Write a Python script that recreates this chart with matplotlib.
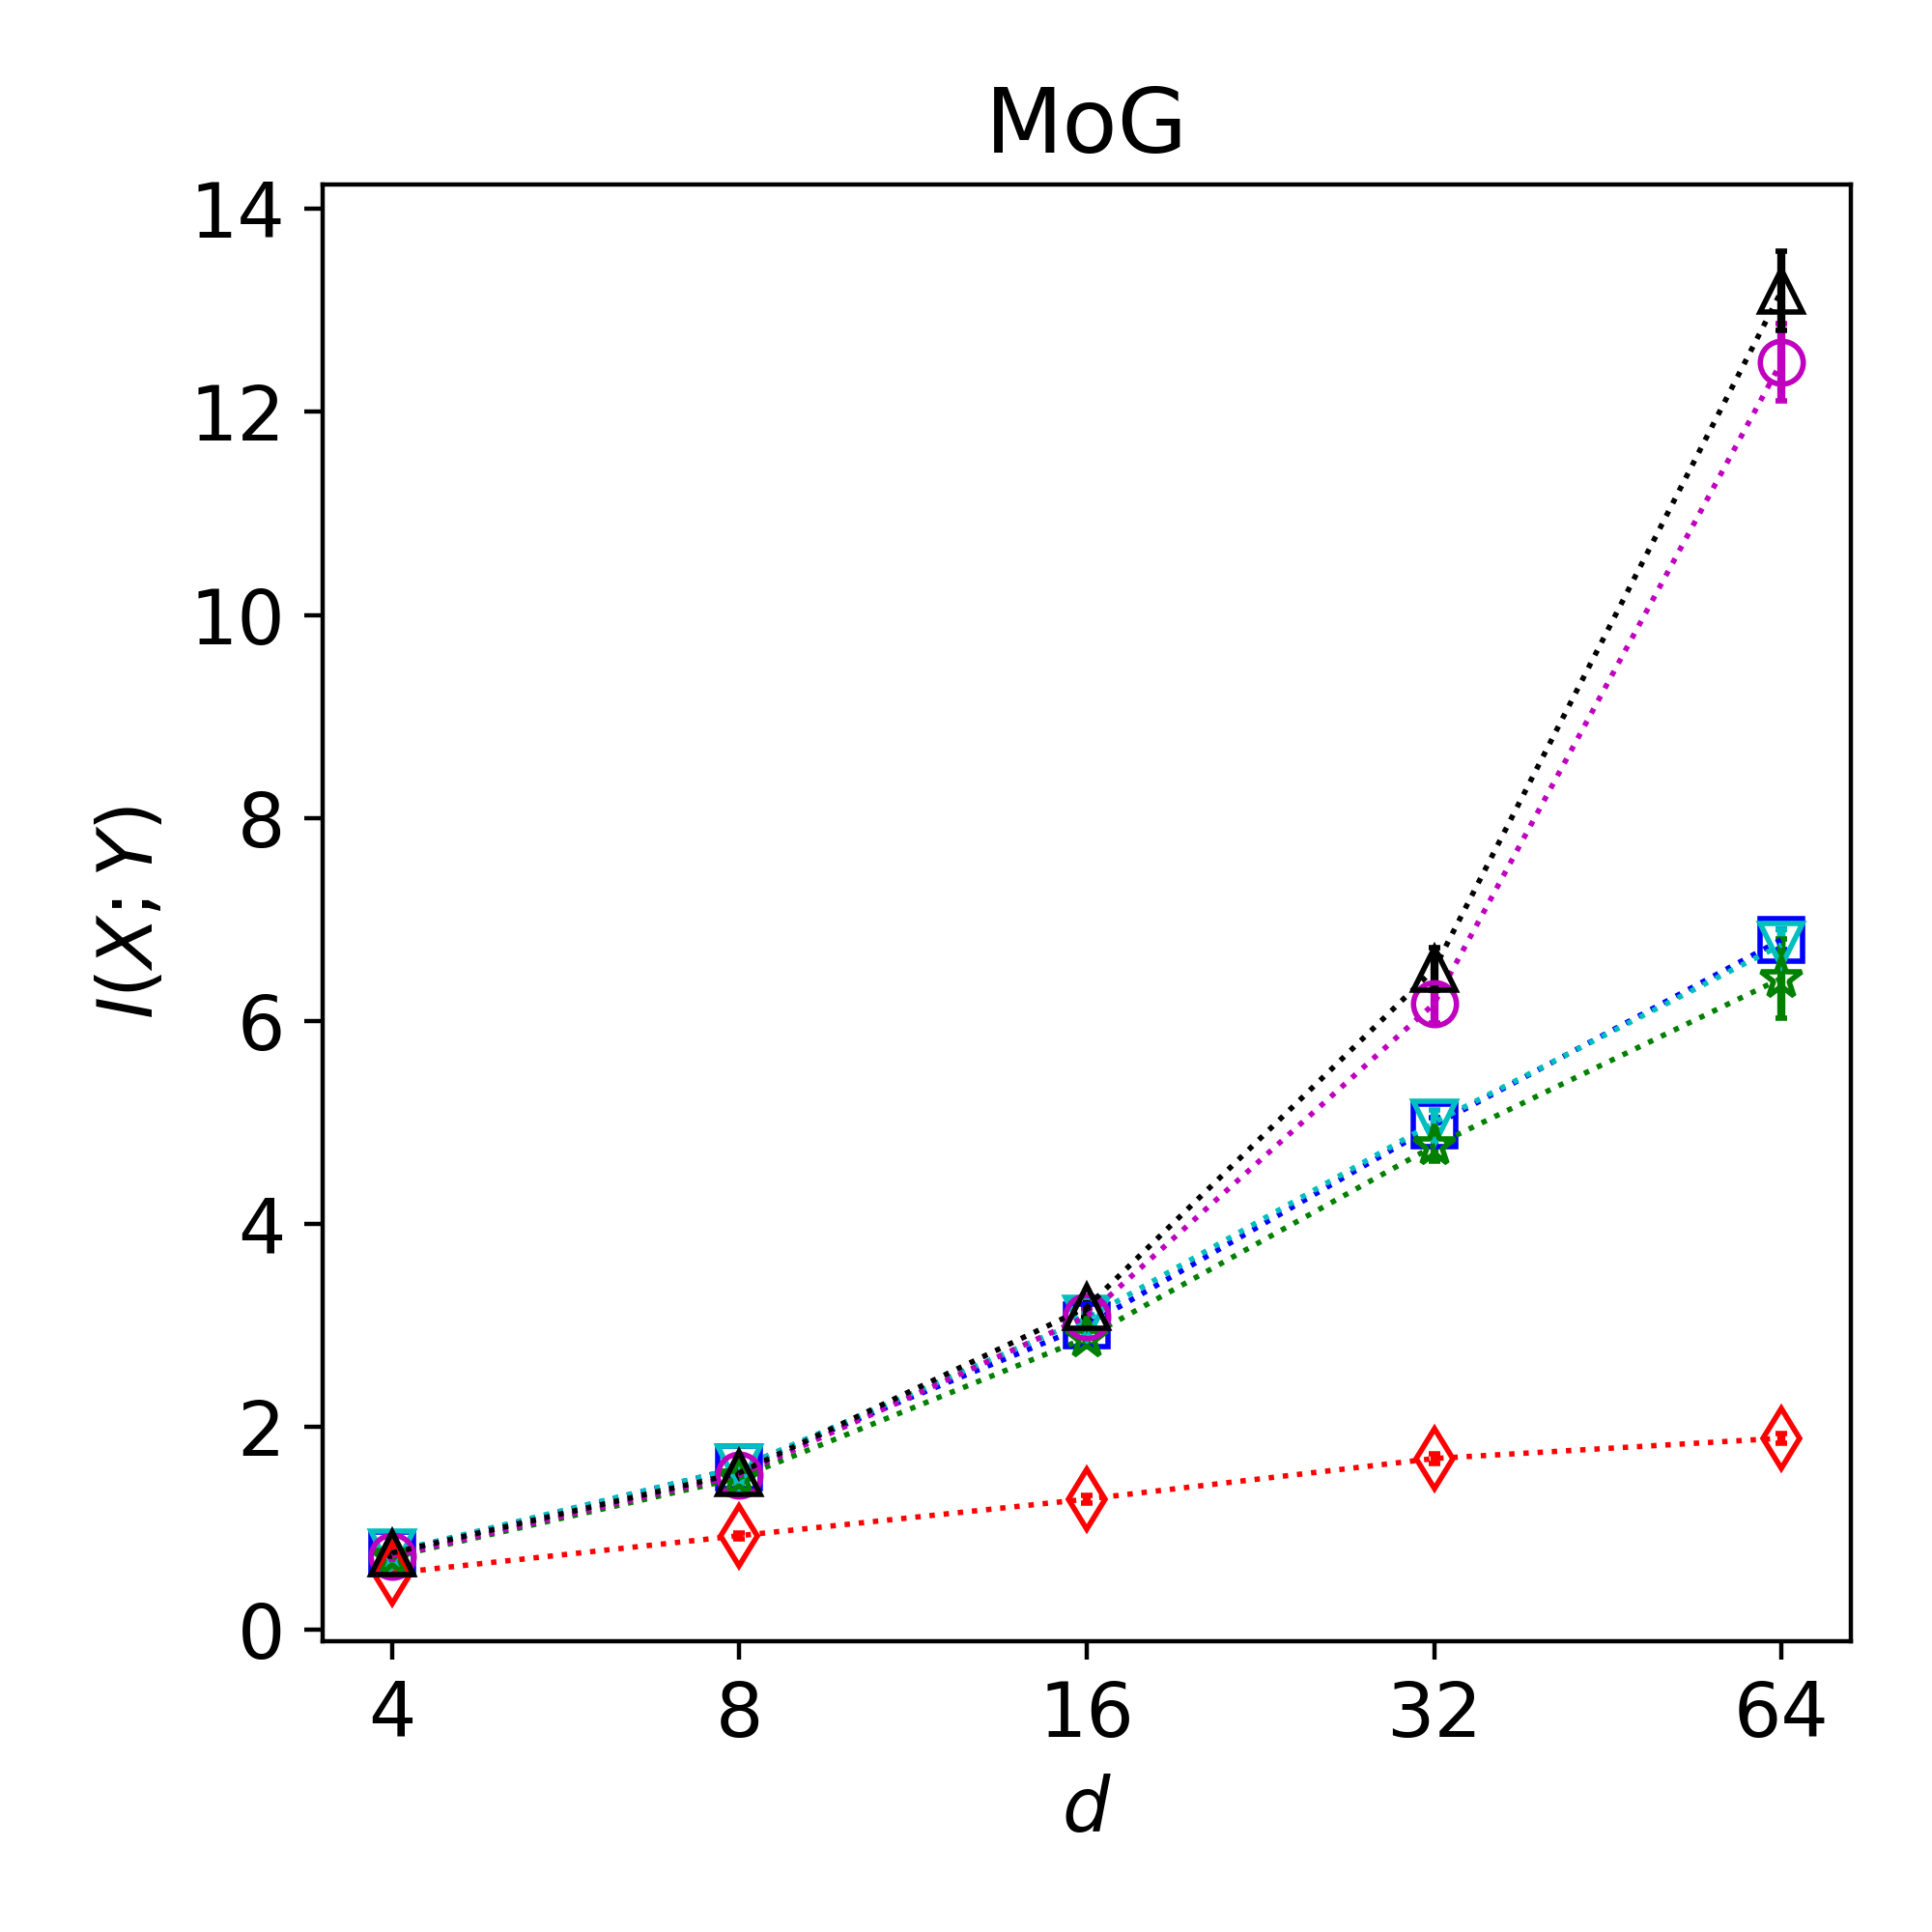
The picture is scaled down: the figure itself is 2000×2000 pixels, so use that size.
import matplotlib
matplotlib.use("Agg")
import matplotlib.pyplot as plt
from matplotlib.ticker import NullLocator, FixedLocator, FixedFormatter

plt.rcParams['font.size'] = 14

d = [4, 8, 16, 32, 64]
tick_labels = ["4", "8", "16", "32", "64"]

# series: (values, errors, color, marker)
blue_vals = [0.76, 1.60, 3.00, 4.97, 6.80]
blue_err = [0.03, 0.04, 0.06, 0.08, 0.10]
cyan_vals = [0.77, 1.60, 3.07, 5.00, 6.75]
cyan_err = [0.03, 0.04, 0.06, 0.12, 0.15]
green_vals = [0.72, 1.50, 2.88, 4.77, 6.42]
green_err = [0.03, 0.05, 0.07, 0.15, 0.39]
magenta_vals = [0.73, 1.53, 3.09, 6.17, 12.49]
magenta_err = [0.03, 0.05, 0.08, 0.19, 0.38]
red_vals = [0.56, 0.93, 1.29, 1.69, 1.89]
red_err = [0.02, 0.03, 0.04, 0.05, 0.05]
black_vals = [0.76, 1.55, 3.18, 6.51, 13.19]
black_err = [0.03, 0.05, 0.10, 0.21, 0.39]

series = [
    (blue_vals, blue_err, 'b', 's'),
    (cyan_vals, cyan_err, 'c', 'v'),
    (green_vals, green_err, 'g', '*'),
    (magenta_vals, magenta_err, 'm', 'o'),
    (red_vals, red_err, 'r', 'd'),
    (black_vals, black_err, 'k', '^'),
]

fig = plt.figure(figsize=(5, 5), dpi=400)
ax = fig.add_axes([0.167, 0.1505, 0.791, 0.754])

for vals, errs, col, mk in series:
    ax.errorbar(d, vals, yerr=errs, color=col, marker=mk, linestyle=':',
                linewidth=1, elinewidth=1.5, capsize=1, markersize=8,
                markerfacecolor='none', markeredgecolor=col)

ax.set_xscale('log', base=2)
ax.xaxis.set_major_locator(FixedLocator(d))
ax.xaxis.set_major_formatter(FixedFormatter(tick_labels))
ax.xaxis.set_minor_locator(NullLocator())
ax.set_yticks([0, 2, 4, 6, 8, 10, 12, 14])
ax.set_ylim(-0.11, 14.24)

ax.set_title("MoG", fontsize=16.8)
ax.set_xlabel("$d$")
ax.set_ylabel("$I(X;Y)$")

fig.savefig("out.png", dpi=400)
